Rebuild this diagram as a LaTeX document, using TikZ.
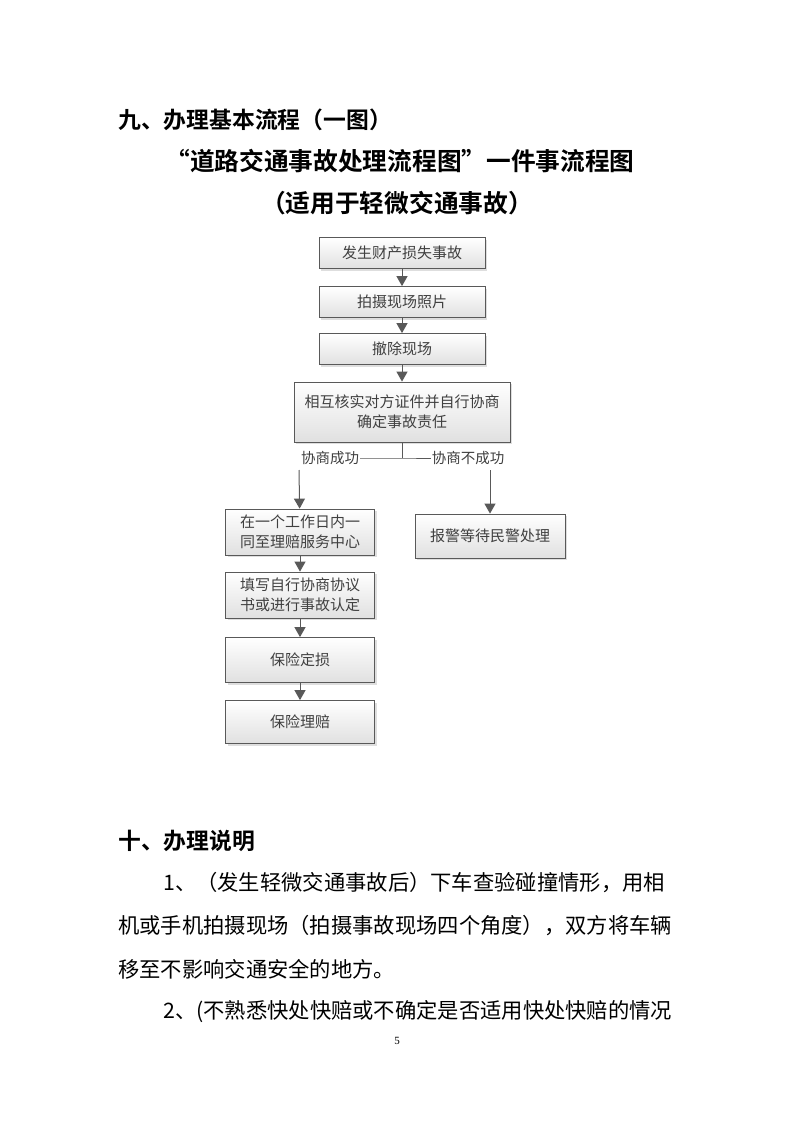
\documentclass[tikz,border=0pt]{standalone}
\usepackage{fontspec}
\setmainfont{Liberation Serif}
\newfontfamily\cjk{Noto Sans CJK SC}
\newfontfamily\cjkb{Noto Sans CJK SC Bold}
\usetikzlibrary{shadows,arrows.meta}
\tikzset{box/.style={draw=black!65,line width=0.8pt,top color=white,bottom color=black!12,
        drop shadow={shadow xshift=2pt,shadow yshift=-2pt,fill=black!25},
        minimum height=31pt,align=center,font=\cjk\fontsize{15}{20}\selectfont,text=black!75},
    flow/.style={-{Triangle[length=10pt,width=11pt]},line width=1pt,draw=black!65},
    lbl/.style={font=\cjk\fontsize{14.5}{17}\selectfont,text=black!75,inner sep=1pt},
    body/.style={anchor=west,font=\cjk\fontsize{21.3}{25}\selectfont,inner sep=0pt},
    head/.style={font=\cjkb\fontsize{22.8}{27}\selectfont,inner sep=0pt},
    title/.style={font=\cjkb\fontsize{24.7}{29}\selectfont,inner sep=0pt}}
\begin{document}
\begin{tikzpicture}[x=1pt,y=-1pt]
\useasboundingbox[fill=white] (0,0) rectangle (793,1122);
% headings
\node[head,anchor=west] (h1) at (118,120) {九、办理基本流程（一图）};
\node[title] (h2) at (400,161) {“道路交通事故处理流程图”一件事流程图};
\node[title] (h3) at (397,203) {（适用于轻微交通事故）};
% boxes
\node[box,minimum width=166pt] (A) at (402,253) {发生财产损失事故};
\node[box,minimum width=166pt] (B) at (402,302) {拍摄现场照片};
\node[box,minimum width=166pt] (C) at (402,349) {撤除现场};
\node[box,minimum width=216pt,minimum height=60pt] (D) at (402,412) {相互核实对方证件并自行协商\\确定事故责任};
\node[box,minimum width=149pt,minimum height=46pt] (E) at (300,532) {在一个工作日内一\\同至理赔服务中心};
\node[box,minimum width=150pt,minimum height=44pt] (R) at (490,536) {报警等待民警处理};
\node[box,minimum width=149pt,minimum height=46pt] (F) at (300,595) {填写自行协商协议\\书或进行事故认定};
\node[box,minimum width=149pt,minimum height=45pt] (G) at (300,660) {保险定损};
\node[box,minimum width=149pt,minimum height=43pt] (H) at (300,722) {保险理赔};
% branch
\coordinate (br) at (402,458);
\node[lbl] (ok) at (330,458) {协商成功};
\node[lbl] (no) at (468,458) {协商不成功};
\draw[flow] (A) -- (B);
\draw[flow] (B) -- (C);
\draw[flow] (C) -- (D);
\draw[line width=1pt,draw=black!65] (D) -- (br) (ok) -- (br) -- (no);
\draw[flow] (299,470) -- (E);
\draw[flow] (490,470) -- (R);
\draw[flow] (E) -- (F);
\draw[flow] (F) -- (G);
\draw[flow] (G) -- (H);
% text below
\node[head,anchor=west] (h4) at (118,841) {十、办理说明};
\node[body] (l1) at (163,883) {1、（发生轻微交通事故后）下车查验碰撞情形，用相};
\node[body] (l2) at (118,926) {机或手机拍摄现场（拍摄事故现场四个角度），双方将车辆};
\node[body] (l3) at (118,969) {移至不影响交通安全的地方。};
\node[body] (l4) at (163,1012) {2、(不熟悉快处快赔或不确定是否适用快处快赔的情况};
\node[font=\fontsize{11}{13}\selectfont] (pg) at (397,1041) {5};
\end{tikzpicture}
\end{document}
